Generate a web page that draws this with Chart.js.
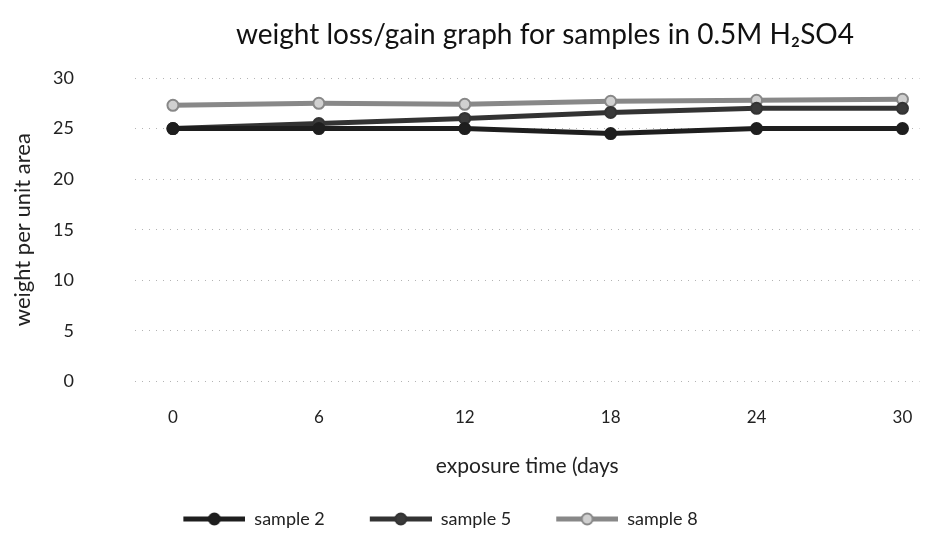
<!DOCTYPE html>
<html>
<head>
<meta charset="utf-8">
<script src="https://cdn.jsdelivr.net/npm/chart.js@4"></script>
<style>
  html, body { margin: 0; padding: 0; background: #fff; }
  #wrap { width: 927px; height: 538px; }
</style>
</head>
<body>
<div id="wrap"><canvas id="chart" width="927" height="538"></canvas></div>
<script>
// values
const days = [0, 6, 12, 18, 24, 30];
const sample2 = [25.0, 25.0, 25.0, 24.5, 25.0, 25.0];
const sample5 = [25.0, 25.5, 26.0, 26.6, 27.0, 27.0];
const sample8 = [27.3, 27.5, 27.4, 27.7, 27.8, 27.9];
const yTicks = [0, 5, 10, 15, 20, 25, 30];
const titleText = 'weight loss/gain graph for samples in 0.5M H₂SO4';

const FONT = 'Lato, "Open Sans", sans-serif';

function pts(vals){ return days.map((d, i) => ({ x: d, y: vals[i] })); }

// "line with marker" swatch for the legend, with blank room on its left
const SW_GAP = 37, SW_LEN = 62;
function swatch(color, fill){
    const c = document.createElement('canvas');
    c.width = SW_GAP + SW_LEN; c.height = 14;
    const g = c.getContext('2d');
    g.strokeStyle = color; g.lineWidth = 5;
    g.beginPath(); g.moveTo(SW_GAP, 7); g.lineTo(SW_GAP + SW_LEN, 7); g.stroke();
    g.fillStyle = fill; g.lineWidth = 2;
    g.beginPath(); g.arc(SW_GAP + SW_LEN/2, 7, 5.5, 0, Math.PI*2); g.fill(); g.stroke();
    return c;
}

const series = [
    { label: 'sample 2', data: pts(sample2), color: '#1e1e1e', fill: '#1e1e1e' },
    { label: 'sample 5', data: pts(sample5), color: '#333333', fill: '#3a3a3a' },
    { label: 'sample 8', data: pts(sample8), color: '#888888', fill: '#d0d0d0' }
];

// title sits off-centre in the original, so draw it by hand;
// the legend also sits a bit left of centre
const layoutTweaks = {
    id: 'layoutTweaks',
    afterLayout(chart){
        const lg = chart.legend;
        if (lg) { lg.left -= 43; lg.right -= 43; }
    },
    afterDraw(chart){
        const c = chart.ctx;
        c.save();
        c.font = `28px ${FONT}`;
        c.fillStyle = '#111';
        c.textAlign = 'center';
        c.textBaseline = 'middle';
        c.fillText(titleText, 545, 35);
        c.restore();
    }
};

new Chart(document.getElementById('chart'), {
    type: 'line',
    data: {
        datasets: series.map(s => ({
            label: s.label,
            data: s.data,
            borderColor: s.color,
            backgroundColor: s.fill,
            pointBorderColor: s.color,
            pointBackgroundColor: s.fill,
            borderWidth: 5,
            pointRadius: 5.5,
            pointBorderWidth: 2,
            tension: 0
        }))
    },
    plugins: [layoutTweaks],
    options: {
        responsive: false,
        animation: false,
        layout: { padding: { left: 10, right: 7, top: 78, bottom: 0 } },
        plugins: {
            title: { display: false },
            legend: {
                position: 'bottom',
                labels: {
                    color: '#222',
                    font: { family: FONT, size: 18 },
                    usePointStyle: true,
                    pointStyleWidth: SW_GAP + SW_LEN,
                    boxHeight: 14,
                    padding: 8,
                    generateLabels: (chart) => series.map((s, i) => ({
                        text: s.label,
                        pointStyle: swatch(s.color, s.fill),
                        fillStyle: s.fill,
                        strokeStyle: s.color,
                        lineWidth: 0,
                        fontColor: '#222',
                        datasetIndex: i,
                        hidden: false
                    }))
                }
            },
            tooltip: { enabled: false }
        },
        scales: {
            x: {
                type: 'linear',
                min: -1.56,
                max: 30.7,
                afterBuildTicks: (scale) => { scale.ticks = days.map(v => ({ value: v })); },
                afterFit: (scale) => { scale.paddingLeft = 0; scale.paddingRight = 0; },
                grid: { display: false, drawTicks: false },
                border: { display: false },
                ticks: { color: '#222', font: { family: FONT, size: 17 }, padding: 26 },
                title: {
                    display: true,
                    text: 'exposure time (days',
                    color: '#222',
                    font: { family: FONT, size: 21 },
                    padding: { top: 0, bottom: 23 }
                }
            },
            y: {
                min: 0,
                max: 30,
                afterBuildTicks: (scale) => { scale.ticks = yTicks.map(v => ({ value: v })); },
                afterFit: (scale) => { scale.width = 125; },
                grid: { color: '#b4b4b4', lineWidth: 1, drawTicks: false },
                border: { display: false, dash: [1, 6] },
                ticks: { color: '#222', font: { family: FONT, size: 18 }, padding: 61 },
                title: {
                    display: true,
                    text: 'weight per unit area',
                    color: '#222',
                    font: { family: FONT, size: 22 },
                    padding: { top: 0, bottom: 4 }
                }
            }
        }
    }
});
</script>
</body>
</html>
